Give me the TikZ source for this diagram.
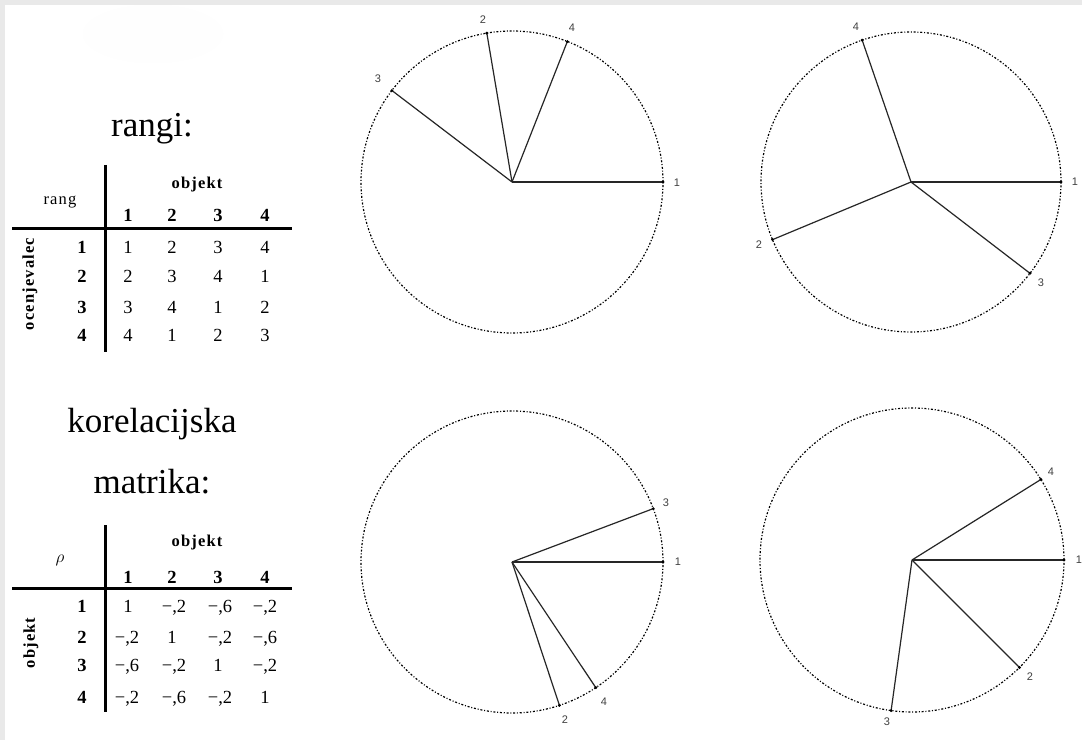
\documentclass[tikz,border=0pt]{standalone}
\usepackage{fontspec}
\setmainfont{Liberation Serif}
\newfontfamily\lsans{Liberation Sans}
\newfontfamily\spaced[LetterSpace=7]{Liberation Serif}
\definecolor{edgegray}{HTML}{E9E9E9}
\definecolor{faint}{HTML}{FEFEFE}
\begin{document}
\begin{tikzpicture}[x=1pt,y=1pt,
  circ/.style={line width=1.2pt, dash pattern=on 2pt off 1.8pt on 1pt off 1.8pt, black},
  ray/.style={line width=1.2pt, black!85},
  tip/.style={fill=black},
  lab/.style={font=\lsans\fontsize{11}{13}\selectfont, text=black!75, inner sep=0pt},
  title/.style={font=\fontsize{35}{40}\selectfont, anchor=base, inner sep=0pt},
  cell/.style={font=\fontsize{18.5}{21}\selectfont, inner sep=0pt, text depth=0pt},
  hcell/.style={font=\bfseries\fontsize{18.5}{21}\selectfont, inner sep=0pt, text depth=0pt},
  head/.style={font=\spaced\bfseries\fontsize{16.5}{19}\selectfont, inner sep=0pt},
  rulebar/.style={line width=3pt}
]
\useasboundingbox (0,0) rectangle (1082,740);
\fill[edgegray] (0,0) rectangle (1082,740);
\fill[white] (5,0) rectangle (1082,735);
\fill[faint] (153,706) ellipse [x radius=70, y radius=29];

% titles
\node[title] (t1) at (152,603) {rangi:};
\node[title] (t2) at (152,308) {korelacijska};
\node[title] (t3) at (152,247) {matrika:};

% ---------- table 1 ----------
\coordinate (v1t) at (105,575); \coordinate (v1b) at (105,388);
\coordinate (h1l) at (12,511);  \coordinate (h1r) at (292,511);
\draw[rulebar] (v1t) -- (v1b);
\draw[rulebar] (h1l) -- (h1r);
\node[font=\spaced\fontsize{16.5}{19}\selectfont, inner sep=0pt] (rang) at (60,538) {rang};
\node[head] (obj1) at (197,555) {objekt};
\node[head, rotate=90] (ocen) at (30,456) {ocenjevalec};
\foreach \j/\x in {1/128,2/172,3/218,4/265}
  \node[hcell] (ah\j) at (\x,525) {\j};
\foreach \i/\y in {1/493,2/464,3/433,4/405}
  \node[hcell] (ar\i) at (82,\y) {\i};
\node[cell] (a11) at (128,493) {1}; \node[cell] (a12) at (172,493) {2}; \node[cell] (a13) at (218,493) {3}; \node[cell] (a14) at (265,493) {4};
\node[cell] (a21) at (128,464) {2}; \node[cell] (a22) at (172,464) {3}; \node[cell] (a23) at (218,464) {4}; \node[cell] (a24) at (265,464) {1};
\node[cell] (a31) at (128,433) {3}; \node[cell] (a32) at (172,433) {4}; \node[cell] (a33) at (218,433) {1}; \node[cell] (a34) at (265,433) {2};
\node[cell] (a41) at (128,405) {4}; \node[cell] (a42) at (172,405) {1}; \node[cell] (a43) at (218,405) {2}; \node[cell] (a44) at (265,405) {3};

% ---------- table 2 ----------
\coordinate (v2t) at (105,215); \coordinate (v2b) at (105,28);
\coordinate (h2l) at (12,152);  \coordinate (h2r) at (292,152);
\draw[rulebar] (v2t) -- (v2b);
\draw[rulebar] (h2l) -- (h2r);
\node[inner sep=0pt, font=\fontsize{18}{21}\selectfont] (rho) at (60,180) {$\rho$};
\node[head] (obj2) at (197,197) {objekt};
\node[head, rotate=90] (obj3) at (31,97) {objekt};
\foreach \j/\x in {1/128,2/172,3/218,4/265}
  \node[hcell] (bh\j) at (\x,163) {\j};
\foreach \i/\y in {1/134,2/103,3/75,4/43}
  \node[hcell] (br\i) at (82,\y) {\i};
\node[cell] (b11) at (128,134) {1};   \node[cell] (b12) at (174,134) {−,2}; \node[cell] (b13) at (220,134) {−,6}; \node[cell] (b14) at (265,134) {−,2};
\node[cell] (b21) at (127,103) {−,2}; \node[cell] (b22) at (172,103) {1};   \node[cell] (b23) at (220,103) {−,2}; \node[cell] (b24) at (265,103) {−,6};
\node[cell] (b31) at (127,75) {−,6};  \node[cell] (b32) at (174,75) {−,2};  \node[cell] (b33) at (218,75) {1};   \node[cell] (b34) at (265,75) {−,2};
\node[cell] (b41) at (127,43) {−,2};  \node[cell] (b42) at (174,43) {−,6};  \node[cell] (b43) at (220,43) {−,2}; \node[cell] (b44) at (265,43) {1};

% ---------- circle 1 ----------
\coordinate (c1) at (512,558);
\draw[circ] (c1) circle [radius=151];
\foreach \n/\a in {1/0, 2/99.6, 3/142.7, 4/68.5} {
  \coordinate (p1\n) at ([shift={(\a:151)}]c1);
  \draw[ray] (c1) -- (p1\n);
  \fill[tip] (p1\n) circle [radius=1.6];
}
\node[lab] (l11) at (677,557) {1};
\node[lab] (l12) at (483,720) {2};
\node[lab] (l13) at (378,661) {3};
\node[lab] (l14) at (572,712) {4};

% ---------- circle 2 ----------
\coordinate (c2) at (911,558);
\draw[circ] (c2) circle [radius=150];
\foreach \n/\a in {1/0, 2/202.6, 3/-37.5, 4/109} {
  \coordinate (p2\n) at ([shift={(\a:150)}]c2);
  \draw[ray] (c2) -- (p2\n);
  \fill[tip] (p2\n) circle [radius=1.6];
}
\node[lab] (l21) at (1075,558) {1};
\node[lab] (l22) at (759,495) {2};
\node[lab] (l23) at (1041,457) {3};
\node[lab] (l24) at (856,713) {4};

% ---------- circle 3 ----------
\coordinate (c3) at (512,178);
\draw[circ] (c3) circle [radius=151];
\foreach \n/\a in {1/0, 2/-71.7, 3/20.7, 4/-56.3} {
  \coordinate (p3\n) at ([shift={(\a:151)}]c3);
  \draw[ray] (c3) -- (p3\n);
  \fill[tip] (p3\n) circle [radius=1.6];
}
\node[lab] (l31) at (678,178) {1};
\node[lab] (l32) at (565,20) {2};
\node[lab] (l33) at (666,237) {3};
\node[lab] (l34) at (604,38) {4};

% ---------- circle 4 ----------
\coordinate (c4) at (912,180);
\draw[circ] (c4) circle [radius=152];
\foreach \n/\a in {1/0, 2/-45, 3/-97.9, 4/32} {
  \coordinate (p4\n) at ([shift={(\a:152)}]c4);
  \draw[ray] (c4) -- (p4\n);
  \fill[tip] (p4\n) circle [radius=1.6];
}
\node[lab] (l41) at (1079,180) {1};
\node[lab] (l42) at (1030,63) {2};
\node[lab] (l43) at (887,18) {3};
\node[lab] (l44) at (1051,268) {4};
\end{tikzpicture}
\end{document}
